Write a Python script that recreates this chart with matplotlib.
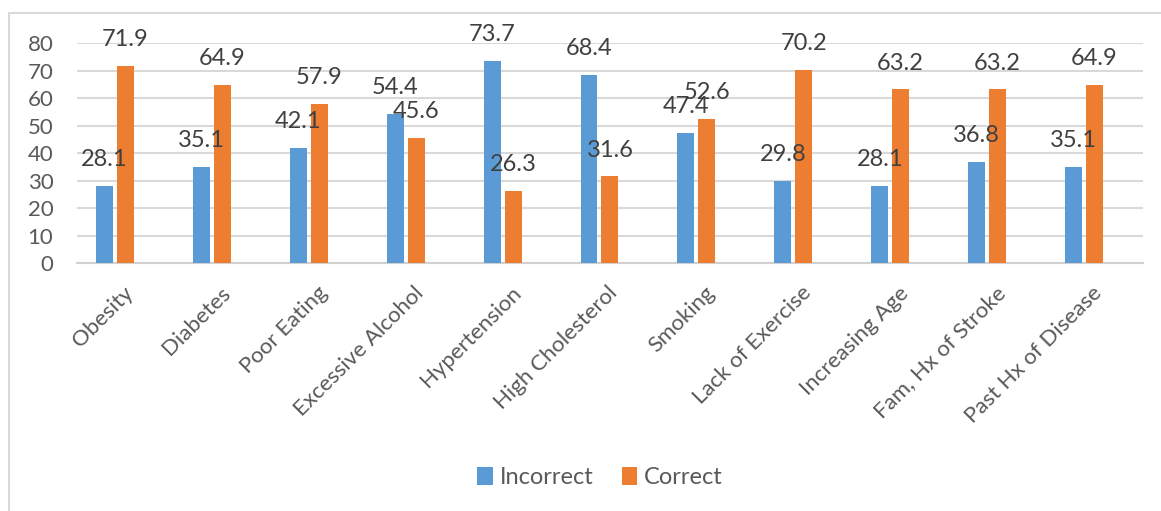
import numpy as np
import matplotlib
matplotlib.use("Agg")
import matplotlib.pyplot as plt
import matplotlib.transforms as mtransforms
from matplotlib.patches import Rectangle

plt.rcParams['font.family'] = ['Lato', 'DejaVu Sans']

# data
categories = ['Obesity', 'Diabetes', 'Poor Eating', 'Excessive Alcohol', 'Hypertension',
              'High Cholesterol', 'Smoking', 'Lack of Exercise', 'Increasing Age',
              'Fam, Hx of Stroke', 'Past Hx of Disease']
incorrect = [28.1, 35.1, 42.1, 54.4, 73.7, 68.4, 47.4, 29.8, 28.1, 36.8, 35.1]
correct = [71.9, 64.9, 57.9, 45.6, 26.3, 31.6, 52.6, 70.2, 63.2, 63.2, 64.9]
series_names = ['Incorrect', 'Correct']
yticks = [0, 10, 20, 30, 40, 50, 60, 70, 80]

blue = '#5B9BD5'
orange = '#ED7D31'
grid_col = '#D9D9D9'
txt_col = '#404040'
tick_col = '#595959'

fig = plt.figure(figsize=(11.61, 5.11), dpi=100)
ax = fig.add_axes([77/1161, 1-263.3/511, (1143-77)/1161, 220/511])

# outer chart border (light grey, runs off right/bottom)
fig.patches.append(Rectangle((9/1161, -0.1), 1.2, 1-13/511+0.1, transform=fig.transFigure,
                             fill=False, edgecolor=grid_col, linewidth=1.5))

x = np.arange(len(categories))
w = 0.175
off = 0.108
b1 = ax.bar(x - off, incorrect, w, color=blue, label=series_names[0], zorder=3)
b2 = ax.bar(x + off, correct, w, color=orange, label=series_names[1], zorder=3)

# value labels above each bar
for bars in (b1, b2):
    for r in bars:
        ax.annotate('{:.1f}'.format(r.get_height()),
                    (r.get_x() + r.get_width()/2, r.get_height()),
                    xytext=(0, 19), textcoords='offset points',
                    ha='center', va='center', fontsize=17, color=txt_col,
                    annotation_clip=False, zorder=4)

ax.set_ylim(0, 80)
ax.set_xlim(-0.392, 10.609)
ax.set_yticks(yticks)
ax.yaxis.grid(True, color=grid_col, linewidth=1.5, zorder=0)
ax.set_axisbelow(True)
for s in ['top', 'right', 'left']:
    ax.spines[s].set_visible(False)
ax.spines['bottom'].set_color('#D0D0D0')
ax.spines['bottom'].set_linewidth(1.5)

ax.tick_params(axis='y', length=0, pad=17, labelsize=16, labelcolor=tick_col)
ax.tick_params(axis='x', length=0, pad=14, labelsize=16, labelcolor=tick_col)
ax.set_xticks(x)
ax.set_xticklabels(categories, rotation=45, ha='right', rotation_mode='anchor')
shift = mtransforms.ScaledTranslation(8/100, 0, fig.dpi_scale_trans)
for lbl in ax.get_xticklabels():
    lbl.set_transform(lbl.get_transform() + shift)

fig.legend(loc='center', bbox_to_anchor=(0.517, 0.065), ncol=2, frameon=False,
           fontsize=17, handlelength=0.65, handleheight=0.75, handletextpad=0.3,
           columnspacing=1.2, labelcolor=tick_col)

fig.savefig('out.png', dpi=100)
